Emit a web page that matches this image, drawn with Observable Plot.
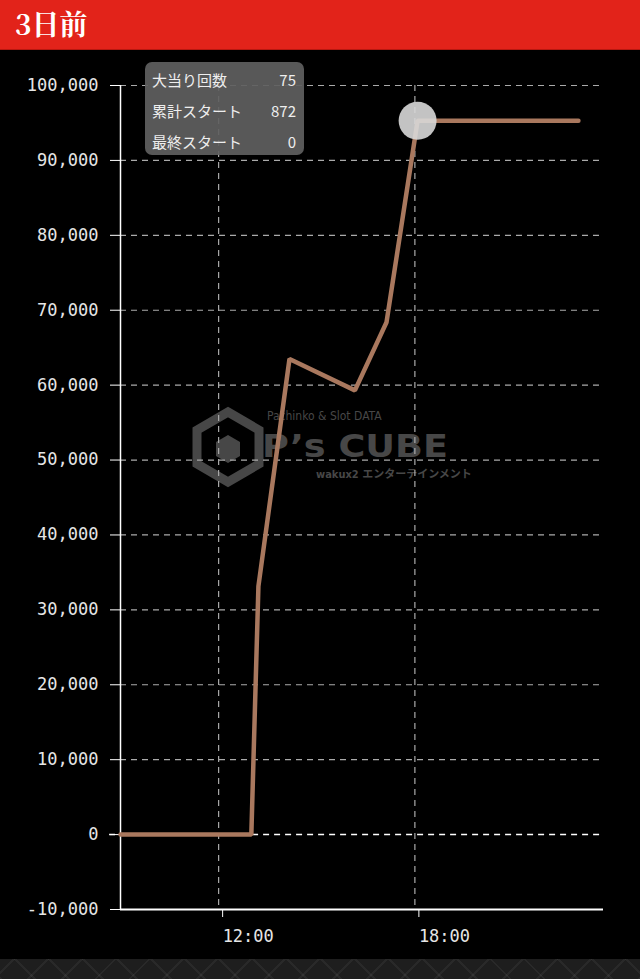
<!DOCTYPE html>
<html><head><meta charset="utf-8">
<script src="https://cdn.jsdelivr.net/npm/d3@7"></script>
<script src="https://cdn.jsdelivr.net/npm/@observablehq/plot@0.6"></script>
<style>
html,body{margin:0;padding:0;background:#000;width:640px;overflow:hidden}
#header{height:50px;background:#e2231a;color:#fff;font-family:"Noto Serif CJK JP","DejaVu Serif",serif;font-weight:bold;font-size:28px;line-height:46px;padding-left:15px;box-sizing:border-box;border-bottom:1px solid #b81810}
#wrap{position:relative;width:640px;height:909px;background:#000}
#wm{position:absolute;left:0;top:0;width:640px;height:909px;z-index:0;pointer-events:none}
#chart{position:absolute;left:0;top:0;z-index:1}
#tip{position:absolute;left:145px;top:12px;width:159px;height:93px;border-radius:7px;background:rgba(95,95,95,0.92);z-index:2;color:#eee;font-family:"Noto Sans CJK JP",sans-serif;font-size:15px;box-sizing:border-box;padding:3px 8px 0 7px}
#tip .r{display:flex;justify-content:space-between;height:31px;line-height:29px}
#footer{height:20px;background:#1e1e1e;background-image:repeating-linear-gradient(45deg,rgba(255,255,255,0.05) 0 2px,transparent 2px 24px),repeating-linear-gradient(-45deg,rgba(255,255,255,0.05) 0 2px,transparent 2px 24px)}
</style></head>
<body>
<div id="header">3日前</div>
<div id="wrap">
  <svg id="wm" width="640" height="909">
    <g fill="none" stroke="#474747" stroke-width="9" stroke-linejoin="miter">
      <polygon points="228,362 259,380 259,414 228,432 197,414 197,380"/>
    </g>
    <polygon points="228,385 240,392 240,406 228,413 216,406 216,392" fill="#474747"/>
    <text x="267" y="370" fill="#474747" font-family="DejaVu Sans Condensed,sans-serif" font-size="12">Pachinko &amp; Slot DATA</text>
    <text x="262" y="407" fill="#474747" font-family="DejaVu Sans,sans-serif" font-weight="bold" font-size="32" textLength="186" lengthAdjust="spacingAndGlyphs">P’s CUBE</text>
    <text x="316" y="428" fill="#474747" font-family="DejaVu Sans Condensed,Noto Sans CJK JP,sans-serif" font-weight="bold" font-size="11">wakux2 エンターテインメント</text>
  </svg>
  <div id="tip">
    <div class="r"><span id="l0"></span><span id="v0"></span></div>
    <div class="r"><span id="l1"></span><span id="v1"></span></div>
    <div class="r"><span id="l2"></span><span id="v2"></span></div>
  </div>
</div>
<div id="footer"></div>
<script>
const times = ["09:00","13:00","13:13","14:10","16:10","17:08","18:05","23:00"];
const values = [0, 0, 33150, 63500, 59300, 68400, 95300, 95300];
const highlightIndex = 6;
const xDomain = ["09:00","23:46"];
const xTicks = ["12:00","18:00"];
const yTicks = [-10000,0,10000,20000,30000,40000,50000,60000,70000,80000,90000,100000];
const tipLabels = ["大当り回数","累計スタート","最終スタート"];
const tipValues = ["75","872","0"];

tipLabels.forEach((l,i)=>{document.getElementById("l"+i).textContent=l;document.getElementById("v"+i).textContent=tipValues[i];});

const toDate = s => { const [h,m] = s.split(":").map(Number); return new Date(2024,0,1,h,m); };
const data = times.map((t,i)=>({t:toDate(t), v:values[i]}));
const fmt = d => d.toLocaleString("en-US");
const gridY = yTicks.filter(d=>d!==0 && d!==-10000);

const chart = Plot.plot({
  width: 640, height: 909,
  marginTop: 35, marginBottom: 50, marginLeft: 120, marginRight: 37,
  style: {background: "transparent", color: "#e6e6e6", fontFamily: "DejaVu Sans Mono, monospace", fontSize: "17px", overflow: "visible"},
  x: {type: "time", domain: xDomain.map(toDate), label: null},
  y: {domain: [-10000, 100000], label: null},
  marks: [
    Plot.ruleY(gridY, {stroke: "#aaa", strokeWidth: 1.2, strokeDasharray: "6,5"}),
    Plot.ruleX(xTicks.map(toDate), {stroke: "#aaa", strokeWidth: 1.2, strokeDasharray: "6,5"}),
    Plot.ruleY([0], {x1: toDate("08:40"), x2: toDate(xDomain[1]), stroke: "#fff", strokeWidth: 1.5, strokeDasharray: "6,5", clip: false}),
    Plot.axisY({ticks: yTicks, tickFormat: fmt, tickSize: 10, tickPadding: 12, stroke: "#fff", fill: "#e6e6e6", fontSize: 17, label: null}),
    Plot.axisX({ticks: xTicks.map(toDate), tickFormat: d3.timeFormat("%H:%M"), tickSize: 8, tickPadding: 12, stroke: "#fff", fill: "#e6e6e6", fontSize: 17, textAnchor: "start", dx: 4, label: null}),
    Plot.ruleX([toDate(xDomain[0])], {stroke: "#fff", strokeWidth: 1.5}),
    Plot.ruleY([-10000], {stroke: "#fff", strokeWidth: 2}),
    Plot.line(data, {x: "t", y: "v", stroke: "#a9785e", strokeWidth: 4.5, strokeLinejoin: "miter"}),
    Plot.dot([data[highlightIndex]], {x: "t", y: "v", r: 19, fill: "#d8d8d8", fillOpacity: 0.9, stroke: "none"})
  ]
});
chart.id = "chart";
document.getElementById("wrap").appendChild(chart);
</script>
</body></html>
